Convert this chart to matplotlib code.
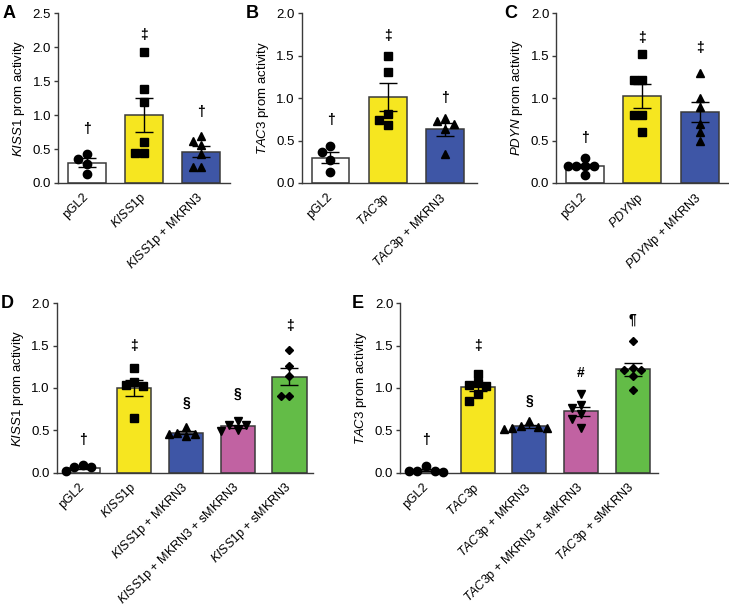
import numpy as np
import matplotlib
matplotlib.use("Agg")
import matplotlib.pyplot as plt

plt.rcParams['font.family'] = ['Liberation Sans', 'DejaVu Sans']
plt.rcParams['mathtext.fontset'] = 'custom'
plt.rcParams['mathtext.rm'] = 'Liberation Sans'
plt.rcParams['mathtext.it'] = 'Liberation Sans:italic'
plt.rcParams['font.size'] = 9.5

# ---- data ----
# panel A
a_labels = ['pGL2', r'$\mathit{KISS1}$p', r'$\mathit{KISS1}$p + MKRN3']
a_points = [[0.43, 0.35, 0.28, 0.13],
            [1.93, 1.38, 1.19, 0.60, 0.44, 0.44],
            [0.69, 0.62, 0.56, 0.42, 0.24, 0.24]]
a_sig = ['†', '‡', '†']
a_sig_y = [0.79, 2.18, 1.04]

# panel B
b_labels = ['pGL2', r'$\mathit{TAC3}$p', r'$\mathit{TAC3}$p + MKRN3']
b_points = [[0.43, 0.36, 0.27, 0.13],
            [1.50, 1.31, 0.81, 0.74, 0.68],
            [0.77, 0.73, 0.69, 0.63, 0.34]]
b_sig = ['†', '‡', '†']
b_sig_y = [0.74, 1.73, 1.00]

# panel C
c_labels = ['pGL2', r'$\mathit{PDYN}$p', r'$\mathit{PDYN}$p + MKRN3']
c_points = [[0.30, 0.20, 0.20, 0.20, 0.20, 0.09],
            [1.52, 1.21, 1.21, 0.80, 0.80, 0.60],
            [1.30, 1.00, 0.90, 0.70, 0.60, 0.50]]
c_sig = ['†', '‡', '‡']
c_sig_y = [0.53, 1.71, 1.59]

# panel D
d_labels = ['pGL2', r'$\mathit{KISS1}$p', r'$\mathit{KISS1}$p + MKRN3',
            r'$\mathit{KISS1}$p + MKRN3 + sMKRN3', r'$\mathit{KISS1}$p + sMKRN3']
d_points = [[0.09, 0.07, 0.07, 0.02],
            [1.24, 1.07, 1.03, 1.02, 0.65],
            [0.54, 0.47, 0.46, 0.46, 0.43],
            [0.61, 0.57, 0.56, 0.51, 0.49],
            [1.45, 1.26, 1.14, 0.91, 0.91]]
d_sig = ['†', '‡', '§', '§', '‡']
d_sig_y = [0.39, 1.50, 0.82, 0.93, 1.73]

# panel E
e_labels = ['pGL2', r'$\mathit{TAC3}$p', r'$\mathit{TAC3}$p + MKRN3',
            r'$\mathit{TAC3}$p + MKRN3 + sMKRN3', r'$\mathit{TAC3}$p + sMKRN3']
e_points = [[0.08, 0.02, 0.02, 0.02, 0.01],
            [1.16, 1.06, 1.04, 1.02, 0.93, 0.85],
            [0.61, 0.55, 0.54, 0.53, 0.53, 0.52],
            [0.93, 0.80, 0.76, 0.69, 0.63, 0.53],
            [1.55, 1.24, 1.21, 1.21, 1.14, 0.98]]
e_sig = ['†', '‡', '§', '#', '¶']
e_sig_y = [0.39, 1.50, 0.85, 1.18, 1.80]

bar_colors = ['white', '#F6E620', '#3E56A6', '#C162A2', '#63BC47']
markers = ['o', 's', '^', 'v', 'D']
marker_size = [6, 5.5, 6, 6, 4.5]


def swarm_offsets(ax, x0, vals, diam):
    # simple beeswarm: spread overlapping points sideways (in pixels)
    placed = []
    offs = np.zeros(len(vals))
    order = np.argsort(vals)[::-1]
    for i in order:
        py = ax.transData.transform((x0, vals[i]))[1]
        for k in [0, -1, 1, -2, 2, -3, 3, -4, 4]:
            px = k * diam
            if all((px - qx) ** 2 + (py - qy) ** 2 >= (diam * 0.95) ** 2 for qx, qy in placed):
                break
        placed.append((px, py))
        offs[i] = px
    # convert pixel offsets to data units
    x_px0 = ax.transData.transform((x0, 0))[0]
    return np.array([ax.transData.inverted().transform((x_px0 + o, 0))[0] - x0 for o in offs])


def panel(rect, labels, points, sig, sig_y, ylabel, ymax, xmax):
    ax = fig.add_axes(rect)
    n = len(labels)
    ax.set_xlim(-0.5, xmax)
    ax.set_ylim(0, ymax)
    means = [np.mean(p) for p in points]
    sems = [np.std(p, ddof=1) / np.sqrt(len(p)) for p in points]
    x = np.arange(n)
    ax.bar(x, means, width=0.66, color=bar_colors[:n], edgecolor='#3a3a3a',
           linewidth=1.1, zorder=1)
    ax.errorbar(x, means, yerr=sems, fmt='none', ecolor='black', elinewidth=1,
                capsize=6.5, capthick=1, zorder=2)
    for i, p in enumerate(points):
        offs = swarm_offsets(ax, i, p, 8.6)
        ax.plot(i + offs, p, linestyle='none', marker=markers[i], color='black',
                markersize=marker_size[i], zorder=3, clip_on=False)
        ax.text(i, sig_y[i], sig[i], ha='center', va='center', fontsize=10,
                fontweight='bold')
    ax.set_xticks(x)
    ax.set_xticklabels(labels, rotation=45, ha='right', va='center',
                       rotation_mode='anchor', fontsize=9)
    ax.tick_params(axis='x', length=0, pad=9)
    ax.tick_params(axis='y', length=3, width=1, color='#3a3a3a', labelsize=9.5, pad=2)
    ax.set_yticks(np.arange(0, ymax + 0.01, 0.5))
    ax.yaxis.set_major_formatter(matplotlib.ticker.FormatStrFormatter('%.1f'))
    for s in ['top', 'right']:
        ax.spines[s].set_visible(False)
    for s in ['left', 'bottom']:
        ax.spines[s].set_color('#3a3a3a')
        ax.spines[s].set_linewidth(1)
    ax.set_ylabel(ylabel, fontsize=9.5, labelpad=4)
    return ax


fig = plt.figure(figsize=(7.29, 6.11), dpi=100)

panel([0.0796, 0.7005, 0.236, 0.278], a_labels, a_points, a_sig, a_sig_y,
      r'$\mathit{KISS1}$ prom activity', 2.5, 2.5)
panel([0.414, 0.7005, 0.240, 0.278], b_labels, b_points, b_sig, b_sig_y,
      r'$\mathit{TAC3}$ prom activity', 2.0, 2.55)
panel([0.763, 0.7005, 0.236, 0.278], c_labels, c_points, c_sig, c_sig_y,
      r'$\mathit{PDYN}$ prom activity', 2.0, 2.5)
panel([0.078, 0.226, 0.351, 0.278], d_labels, d_points, d_sig, d_sig_y,
      r'$\mathit{KISS1}$ prom activity', 2.0, 4.45)
panel([0.549, 0.226, 0.353, 0.278], e_labels, e_points, e_sig, e_sig_y,
      r'$\mathit{TAC3}$ prom activity', 2.0, 4.48)

# panel letters (figure pixel positions)
for letter, px, py in [('A', 3, 13), ('B', 246, 13), ('C', 504, 13),
                       ('D', 1, 304), ('E', 352, 304)]:
    fig.text(px / 729, 1 - py / 611, letter, fontsize=13, fontweight='bold',
             ha='left', va='center')

fig.savefig('out.png', dpi=100)
